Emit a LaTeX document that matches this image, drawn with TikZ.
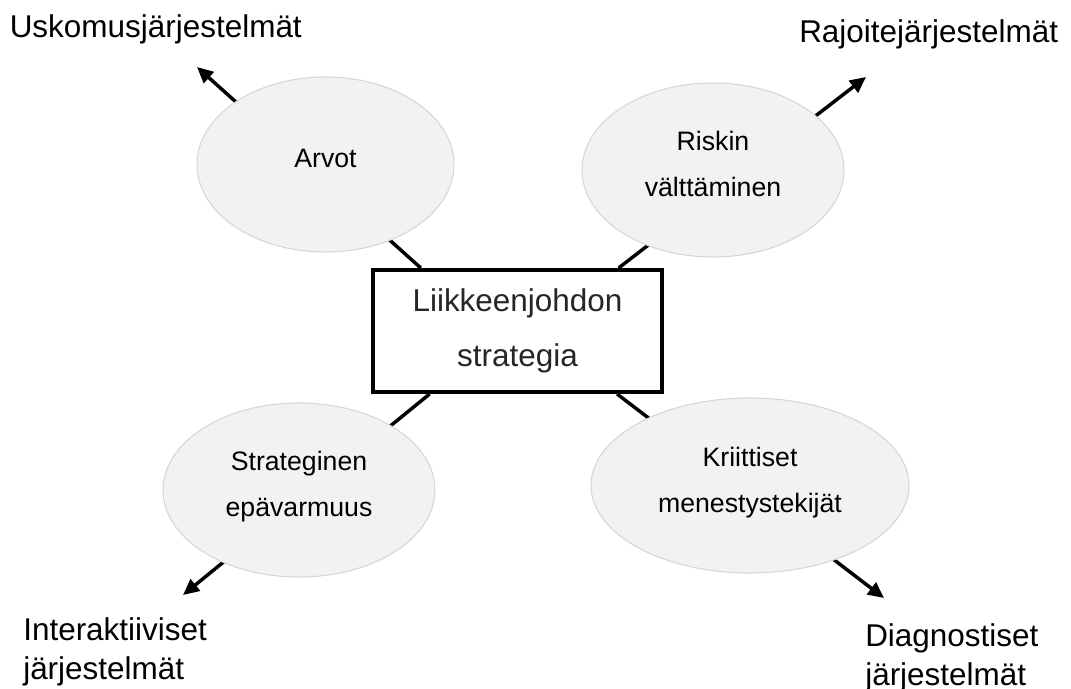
\documentclass[tikz,border=0pt]{standalone}
\usepackage{fontspec}
\setmainfont{Liberation Sans}
\usetikzlibrary{shapes.geometric,arrows.meta,calc}
\definecolor{bubblefill}{RGB}{242,242,242}
\definecolor{bubbleline}{RGB}{214,214,214}
\definecolor{coretext}{RGB}{38,38,38}
\begin{document}
\begin{tikzpicture}[x=0.75pt,y=-0.75pt,
  bubble/.style={ellipse, fill=bubblefill, draw=bubbleline, line width=0.8pt,
    inner sep=0pt, align=center, text depth=9pt,
    font=\fontsize{20}{34.5}\selectfont},
  core/.style={draw=black, line width=3pt, fill=white, inner sep=0pt,
    minimum width=216.75pt, minimum height=91.5pt, align=center,
    text=coretext, font=\fontsize{23.6}{41.25}\selectfont},
  link/.style={line width=2.6pt},
  flow/.style={link, -{Triangle[length=12pt,width=11pt]}},
  syslabel/.style={anchor=base west, align=left, inner sep=0pt,
    font=\fontsize{23.6}{29.25}\selectfont}]
  \useasboundingbox (0,0) rectangle (1071,689);

  % central strategy box
  \node[core] (core) at (517.5,331) {Liikkeenjohdon\\strategia};

  % free ends of the four control-system arrows
  \coordinate (tipA) at (197,67);
  \coordinate (tipB) at (866,77);
  \coordinate (tipC) at (183,595);
  \coordinate (tipD) at (884,598);

  % arrows run from the box outwards; the bubbles are drawn over them
  \draw[flow] ($(core.north west)!0.17!(core.north east)$) -- (tipA);
  \draw[flow] ($(core.north west)!0.845!(core.north east)$) -- (tipB);
  \draw[flow] ($(core.south west)!0.2!(core.south east)$) -- (tipC);
  \draw[flow] ($(core.south west)!0.84!(core.south east)$) -- (tipD);

  % the four levers
  \node[bubble, minimum width=192.75pt, minimum height=131.25pt]
    (values) at (325.5,164.5) {Arvot};
  \node[bubble, minimum width=196.5pt, minimum height=130.5pt]
    (risk) at (713,170) {Riskin\\välttäminen};
  \node[bubble, minimum width=204pt, minimum height=130.5pt]
    (uncertainty) at (299,490) {Strateginen\\epävarmuus};
  \node[bubble, minimum width=238.5pt, minimum height=131.25pt]
    (csf) at (750,485.5) {Kriittiset\\menestystekijät};

  % control system labels (base anchor sits on the last line)
  \node[syslabel] (beliefs) at (9.5,37) {Uskomusjärjestelmät};
  \node[syslabel] (bounds) at (799,42) {Rajoitejärjestelmät};
  \node[syslabel] (interactive) at (23,679) {Interaktiiviset\\järjestelmät};
  \node[syslabel] (diagnostic) at (865,685) {Diagnostiset\\järjestelmät};
\end{tikzpicture}
\end{document}
